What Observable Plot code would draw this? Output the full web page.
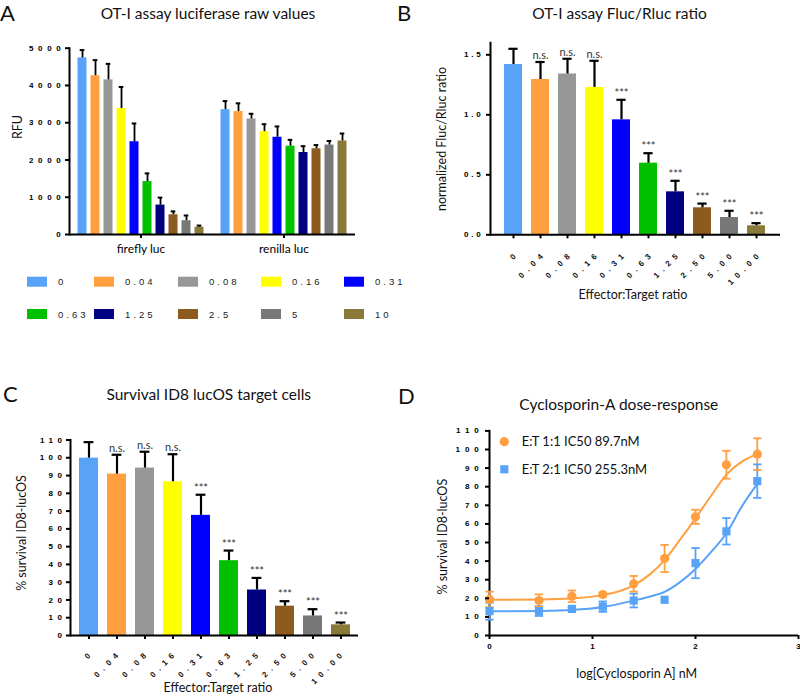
<!DOCTYPE html>
<html><head><meta charset="utf-8">
<script src="https://cdn.jsdelivr.net/npm/d3@7"></script>
<script src="https://cdn.jsdelivr.net/npm/@observablehq/plot@0.6"></script>
<style>
body{margin:0;background:#fff;}
#root{position:relative;width:800px;height:699px;overflow:hidden;font-family:Lato,sans-serif;background:#fff;}
.panel{position:absolute;}
.panel svg{overflow:visible;max-width:none !important;}
#overlay{position:absolute;left:0;top:0;pointer-events:none;}
.pA g[aria-label="y-axis tick label"]{font:bold 8px "Liberation Sans";letter-spacing:4.7px;}
.pB g[aria-label="y-axis tick label"]{font:bold 8px "Liberation Sans";letter-spacing:2.8px;}
.pC g[aria-label="y-axis tick label"]{font:bold 8px "Liberation Sans";letter-spacing:4.5px;}
.pD g[aria-label="y-axis tick label"]{font:bold 8px "Liberation Sans";letter-spacing:5px;}
.pD g[aria-label="x-axis tick label"]{font:bold 8px "Liberation Sans";}
text[aria-label="rotated tick label"]{letter-spacing:5px;}
.pA g[aria-label="fx-axis tick label"]{font:12px Lato;}
</style></head>
<body><div id="root"></div>
<script>
// ---------- data ----------
const legendLabels = ["0","0.04","0.08","0.16","0.31","0.63","1.25","2.5","5","10"];
const ratioTicks = ["0","0.04","0.08","0.16","0.31","0.63","1.25","2.50","5.00","10.00"];
const barColors = ["#58A2F7","#FF9F40","#979797","#FFFF00","#0000FF","#00C000","#000080","#8E5B1F","#787878","#8A7A3A"];

const groupsA = ["firefly luc","renilla luc"];
const fireflyMean = [4740,4260,4150,3380,2490,1420,790,530,370,196];
const fireflyErr  = [210,420,430,580,490,220,200,90,140,44];
const renillaMean = [3350,3300,3100,2760,2610,2370,2200,2300,2400,2510];
const renillaErr  = [230,220,140,200,290,170,170,100,110,200];
const yTicksA = [0,1000,2000,3000,4000,5000];

const ratioMean = [1.419,1.294,1.34,1.228,0.958,0.597,0.358,0.225,0.144,0.075];
const ratioErr  = [0.131,0.146,0.127,0.222,0.167,0.083,0.092,0.035,0.056,0.022];
const yTicksB = [0,0.5,1.0,1.5];

const survivalMean = [99.8,90.8,94.2,86.5,67.6,42.1,25.6,16.5,11.0,6.0];
const survivalErr  = [9.0,10.9,9.2,15.5,11.6,5.7,6.8,2.8,3.8,1.3];
const sigLabels = ["","n.s.","n.s.","n.s.","***","***","***","***","***","***"];
const yTicksC = [0,10,20,30,40,50,60,70,80,90,100,110];

const seriesD = ["E:T 1:1 IC50 89.7nM","E:T 2:1 IC50 255.3nM"];
const colorsD = ["#FF9F40","#58A2F7"];
const symbolsD = ["circle","square"];
const logConc = [0,0.48,0.8,1.1,1.4,1.7,2.0,2.3,2.6];
const et11Mean = [19.4,18.8,21.1,22.0,27.8,41.4,63.8,91.8,97.5];
const et11Err  = [4.2,3.3,3.1,1.0,4.2,7.3,3.8,7.5,8.5];
const et21Mean = [13.1,13.1,14.3,15.5,18.8,19.2,38.9,56.0,83.0];
const et21Err  = [4.6,2.6,0.8,2.8,3.7,0,8.1,7.1,9.0];
const fitX   = [0,0.5,0.8,1.1,1.4,1.56,1.7,1.85,2.0,2.15,2.3,2.45,2.6];
const fit11  = [19.2,19.4,20.0,21.7,27.0,33.0,40.5,51.5,63.0,75.0,86.5,93.5,97.5];
const fit21  = [13.0,13.2,13.7,15.3,18.8,21.0,23.5,28.7,35.8,44.8,55.0,69.4,81.5];
const xTicksD = [0,1,2,3];

const titles = ["OT-I assay luciferase raw values","OT-I assay Fluc/Rluc ratio","Survival ID8 lucOS target cells","Cyclosporin-A dose-response"];
const panelLetters = ["A","B","C","D"];

// ---------- helpers ----------
const root = document.getElementById("root");
function place(node, left, top, w, h){
  const d = document.createElement("div");
  d.className = "panel";
  d.style.left = left + "px"; d.style.top = top + "px";
  d.style.width = w + "px"; d.style.height = h + "px";
  d.appendChild(node); root.appendChild(d);
}
const baseStyle = {fontFamily: "Lato, sans-serif", fontSize: "10px", overflow: "visible", background: "transparent"};
// rotated, letter-spaced tick labels (GraphPad style)
const rotLabels = (dx, dy) => Plot.text(ratioTicks, {x: d => d, text: d => d, frameAnchor: "bottom", rotate: -45,
  textAnchor: "end", lineAnchor: "middle", dx, dy, fill: "#111", fontWeight: "bold", fontSize: 8,
  fontFamily: "Liberation Sans, Arial, sans-serif", ariaLabel: () => "rotated tick label"});

// ---------- Panel A ----------
const rowsA = [];
groupsA.forEach((g, gi) => legendLabels.forEach((r, i) => rowsA.push({
  g, r, v: (gi ? renillaMean : fireflyMean)[i], e: (gi ? renillaErr : fireflyErr)[i]})));
const svgA = Plot.plot({
  className: "pA", width: 400, height: 270,
  marginLeft: 68.5, marginRight: 45.1, marginTop: 47.7, marginBottom: 36,
  style: baseStyle,
  fx: {domain: groupsA, padding: 0, label: null},
  x: {domain: legendLabels, paddingInner: 0.33, paddingOuter: 0.535, axis: null},
  y: {domain: [0, 5000], label: null},
  color: {domain: legendLabels, range: barColors},
  marks: [
    Plot.barY(rowsA, {fx: "g", x: "r", y: "v", fill: "r"}),
    Plot.ruleX(rowsA, {fx: "g", x: "r", y1: "v", y2: d => d.v + d.e, stroke: "#000", strokeWidth: 1.8}),
    Plot.tickY(rowsA, {fx: "g", x: "r", y: d => d.v + d.e, stroke: "#000", strokeWidth: 2, insetLeft: 2.2, insetRight: 2.2}),
    Plot.ruleY([0], {stroke: "#000", strokeWidth: 2}),
    Plot.frame({anchor: "left", facetAnchor: "left", stroke: "#000", strokeWidth: 2}),
    Plot.axisY({ticks: yTicksA, tickFormat: d => String(d), tickSize: 4, tickPadding: 0, strokeWidth: 2, label: null}),
    Plot.axisFx({anchor: "bottom", tickSize: 4, tickPadding: 6, strokeWidth: 2, label: null})
  ]
});
place(svgA, 0, 0, 400, 270);

// ---------- Panel B ----------
const rowsB = ratioTicks.map((r, i) => ({r, v: ratioMean[i], e: ratioErr[i], s: sigLabels[i]}));
const svgB = Plot.plot({
  className: "pB", width: 400, height: 300,
  marginLeft: 90, marginRight: 20, marginTop: 42.3, marginBottom: 65.7,
  style: baseStyle,
  x: {domain: ratioTicks, paddingInner: 0.32, paddingOuter: 0.35, label: null},
  y: {domain: [0, 1.6], label: null},
  color: {domain: ratioTicks, range: barColors},
  marks: [
    Plot.barY(rowsB, {x: "r", y: "v", fill: "r"}),
    Plot.ruleX(rowsB, {x: "r", y1: "v", y2: d => d.v + d.e, stroke: "#000", strokeWidth: 2.2}),
    Plot.tickY(rowsB, {x: "r", y: d => d.v + d.e, stroke: "#000", strokeWidth: 2.2, insetLeft: 4.4, insetRight: 4.4}),
    Plot.text(rowsB, {x: "r", y: d => d.v + d.e, text: "s", lineAnchor: "bottom", dy: -3, fill: "#333", fontSize: 11}),
    Plot.ruleY([0], {stroke: "#000", strokeWidth: 2}),
    Plot.frame({anchor: "left", stroke: "#000", strokeWidth: 2}),
    Plot.axisY({ticks: yTicksB, tickFormat: d3.format(".1f"), tickSize: 4, tickPadding: 3, strokeWidth: 2, label: null}),
    Plot.axisX({tickSize: 4, tickFormat: () => "", strokeWidth: 2, label: null}),
    rotLabels(4.6, 17)
  ]
});
place(svgB, 400, 0, 400, 300);

// ---------- Panel C ----------
const rowsC = ratioTicks.map((r, i) => ({r, v: survivalMean[i], e: survivalErr[i], s: sigLabels[i]}));
const svgC = Plot.plot({
  className: "pC", width: 400, height: 300,
  marginLeft: 70, marginRight: 42, marginTop: 59.5, marginBottom: 45,
  style: baseStyle,
  x: {domain: ratioTicks, paddingInner: 0.33, paddingOuter: 0.25, label: null},
  y: {domain: [0, 110], label: null},
  color: {domain: ratioTicks, range: barColors},
  marks: [
    Plot.barY(rowsC, {x: "r", y: "v", fill: "r"}),
    Plot.ruleX(rowsC, {x: "r", y1: "v", y2: d => d.v + d.e, stroke: "#000", strokeWidth: 2.2}),
    Plot.tickY(rowsC, {x: "r", y: d => d.v + d.e, stroke: "#000", strokeWidth: 2.2, insetLeft: 4.6, insetRight: 4.6}),
    Plot.text(rowsC, {x: "r", y: d => d.v + d.e, text: "s", lineAnchor: "bottom", dy: -3, fill: "#333", fontSize: 11}),
    Plot.ruleY([0], {stroke: "#000", strokeWidth: 2}),
    Plot.frame({anchor: "left", stroke: "#000", strokeWidth: 2}),
    Plot.axisY({ticks: yTicksC, tickFormat: d => String(d), tickSize: 4, tickPadding: 0, strokeWidth: 2, label: null}),
    Plot.axisX({tickSize: 4, tickFormat: () => "", strokeWidth: 2, label: null}),
    rotLabels(3.5, 15.5)
  ]
});
place(svgC, 0, 380, 400, 300);

// ---------- Panel D ----------
const ptsD = [];
[[et11Mean, et11Err], [et21Mean, et21Err]].forEach(([m, e], si) => logConc.forEach((x, i) => ptsD.push({s: seriesD[si], x, v: m[i], e: e[i]})));
const fitD = [];
[fit11, fit21].forEach((f, si) => fitX.forEach((x, i) => fitD.push({s: seriesD[si], x, v: f[i]})));
const capSymbol = {draw(ctx){ ctx.moveTo(-4.2, 0); ctx.lineTo(4.2, 0); }};
const errD = ptsD.filter(d => d.e > 0);
const svgD = Plot.plot({
  className: "pD", width: 400, height: 300,
  marginLeft: 89, marginRight: 2, marginTop: 50.4, marginBottom: 45,
  style: baseStyle,
  x: {domain: [0, 3], label: null},
  y: {domain: [0, 110], label: null},
  color: {domain: seriesD, range: colorsD},
  symbol: {domain: seriesD, range: symbolsD},
  marks: [
    Plot.ruleY([0], {stroke: "#000", strokeWidth: 2}),
    Plot.frame({anchor: "left", stroke: "#000", strokeWidth: 2}),
    Plot.line(fitD, {x: "x", y: "v", z: "s", stroke: "s", strokeWidth: 2, curve: "monotone-x"}),
    Plot.ruleX(errD, {x: "x", y1: d => d.v - d.e, y2: d => d.v + d.e, stroke: "s", strokeWidth: 1.8}),
    Plot.dot(errD, {x: "x", y: d => d.v + d.e, symbol: capSymbol, stroke: "s", fill: "none", strokeWidth: 1.8}),
    Plot.dot(errD, {x: "x", y: d => d.v - d.e, symbol: capSymbol, stroke: "s", fill: "none", strokeWidth: 1.8}),
    Plot.dot(ptsD, {x: "x", y: "v", symbol: "s", fill: "s", r: 4.6}),
    Plot.axisY({ticks: yTicksC, tickFormat: d => String(d), tickSize: 4, tickPadding: 1.7, strokeWidth: 2, label: null}),
    Plot.axisX({ticks: xTicksD, tickFormat: d => String(d), tickSize: 4, tickPadding: 4, strokeWidth: 2, label: null})
  ]
});
place(svgD, 400, 380, 400, 300);

// ---------- overlay texts & legends ----------
const ov = d3.select(root).append("svg").attr("id", "overlay").attr("width", 800).attr("height", 699);
const texts = [
  {t: panelLetters[0], x: 0, y: 21, size: 22, a: "start"},
  {t: panelLetters[1], x: 397, y: 21, size: 22, a: "start"},
  {t: panelLetters[2], x: 3, y: 402, size: 22, a: "start"},
  {t: panelLetters[3], x: 398, y: 404, size: 22, a: "start"},
  {t: titles[0], x: 208, y: 18.5, size: 15.5, a: "middle"},
  {t: titles[1], x: 619.5, y: 18.5, size: 15.5, a: "middle"},
  {t: titles[2], x: 208.7, y: 400, size: 15.5, a: "middle"},
  {t: titles[3], x: 618.8, y: 410, size: 15.5, a: "middle"},
  {t: "Effector:Target ratio", x: 633, y: 299, size: 12.5, a: "middle"},
  {t: "Effector:Target ratio", x: 218, y: 692, size: 12.5, a: "middle"},
  {t: "log[Cyclosporin A] nM", x: 636.7, y: 678, size: 12.5, a: "middle"},
];
ov.selectAll("text.t").data(texts).join("text").attr("class", "t")
  .attr("x", d => d.x).attr("y", d => d.y).attr("font-size", d => d.size)
  .attr("text-anchor", d => d.a).attr("font-family", "Lato, sans-serif").attr("fill", "#111").text(d => d.t);
const vtexts = [
  {t: "RFU", x: 22, y: 127},
  {t: "normalized Fluc/Rluc ratio", x: 446, y: 139},
  {t: "% survival ID8-lucOS", x: 25.5, y: 533},
  {t: "% survival ID8-lucOS", x: 447, y: 536.7},
];
ov.selectAll("text.v").data(vtexts).join("text").attr("class", "v")
  .attr("transform", d => `translate(${d.x},${d.y}) rotate(-90)`).attr("font-size", 12.5)
  .attr("text-anchor", "middle").attr("font-family", "Lato, sans-serif").attr("fill", "#111").text(d => d.t);

// legend A (10 swatches in 2 rows of 5)
const colX = [27, 94, 178, 261, 344];
const rowY = [281.7, 314];
const legA = ov.append("g");
legendLabels.forEach((lab, i) => {
  const cx = colX[i % 5], cy = rowY[Math.floor(i / 5)];
  legA.append("rect").attr("x", cx).attr("y", cy - 5).attr("width", 20).attr("height", 10).attr("fill", barColors[i]);
  legA.append("text").attr("x", cx + 31).attr("y", cy + 3.5).attr("font-size", 9.5)
    .attr("font-family", "Liberation Sans, Arial, sans-serif").attr("letter-spacing", "3px").attr("fill", "#222").text(lab);
});

// legend D
const legD = ov.append("g");
const legDy = [441.7, 469.3];
seriesD.forEach((s, i) => {
  const sym = d3.symbol(symbolsD[i] === "circle" ? d3.symbolCircle : d3.symbolSquare, Math.PI * 4.6 * 4.6);
  legD.append("path").attr("d", sym()).attr("transform", `translate(504.3,${legDy[i]})`).attr("fill", colorsD[i]);
  legD.append("text").attr("x", 521.7).attr("y", legDy[i] + 4.5).attr("font-size", 13)
    .attr("font-family", "Lato, sans-serif").attr("fill", "#111").text(s);
});
</script></body></html>
